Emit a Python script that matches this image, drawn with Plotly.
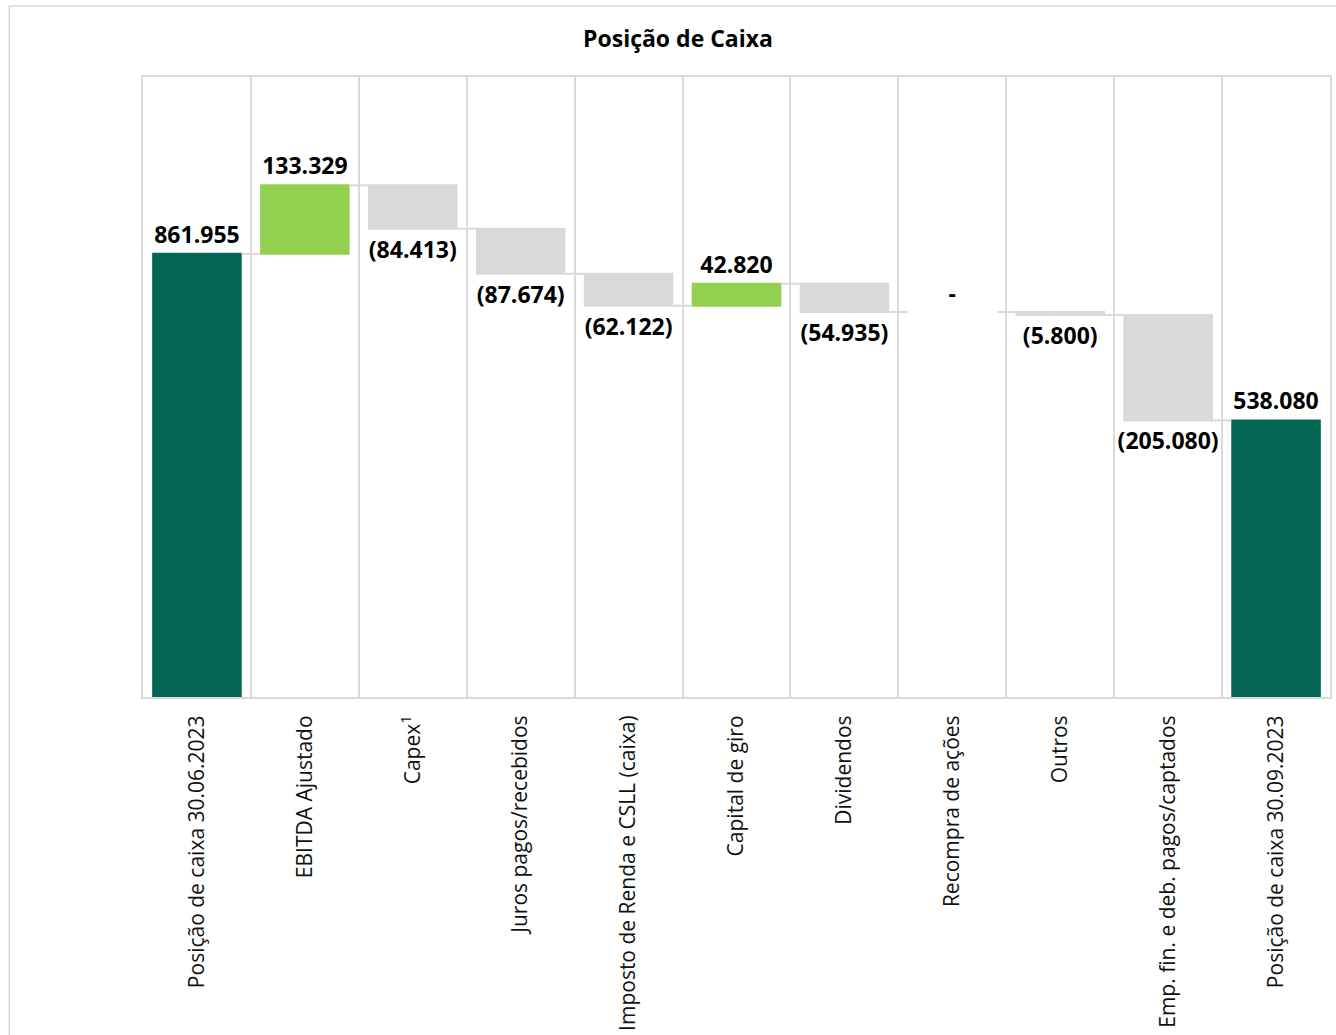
import plotly.graph_objects as go

categories = [
    "Posição de caixa 30.06.2023",
    "EBITDA Ajustado",
    "Capex<sup>1</sup>",
    "Juros pagos/recebidos",
    "Imposto de Renda e CSLL (caixa)",
    "Capital de giro",
    "Dividendos",
    "Recompra de ações",
    "Outros",
    "Emp. fin. e deb. pagos/captados",
    "Posição de caixa 30.09.2023",
]
values = [861955, 133329, -84413, -87674, -62122, 42820, -54935, 0, -5800, -205080, 538080]
measures = ["absolute"] + ["relative"] * 9 + ["total"]


def fmt(v):
    if v == 0:
        return "-"
    s = f"{abs(v):,}".replace(",", ".")
    return f"({s})" if v < 0 else s


labels = [fmt(v) for v in values]

DARK = "#046554"
LIGHT = "#92D050"
GRAY = "#D9D9D9"
FONT = "Open Sans"

fig = go.Figure(
    go.Waterfall(
        x=categories,
        y=values,
        measure=measures,
        text=labels,
        texttemplate="<b>%{text}</b>",
        textposition="outside",
        constraintext="none",
        textfont=dict(family=FONT, size=23, color="#000000"),
        cliponaxis=False,
        increasing=dict(marker=dict(color=LIGHT)),
        decreasing=dict(marker=dict(color=GRAY)),
        totals=dict(marker=dict(color=DARK)),
        connector=dict(mode="between", line=dict(color=GRAY, width=2)),
        hoverinfo="skip",
    )
)

fig.update_layout(
    width=1336,
    height=1035,
    margin=dict(l=143, r=4, t=77, b=337),
    paper_bgcolor="white",
    plot_bgcolor="white",
    showlegend=False,
    waterfallgap=0.17,
    title=dict(
        text="<b>Posição de Caixa</b>",
        x=678 / 1336,
        xref="container",
        xanchor="center",
        y=1 - 39 / 1035,
        yref="container",
        yanchor="middle",
        font=dict(family=FONT, size=23, color="#000000"),
    ),
    font=dict(family=FONT, color="#000000"),
)

fig.update_xaxes(
    type="category",
    tickson="boundaries",
    showgrid=True,
    gridcolor=GRAY,
    gridwidth=2,
    ticks="",
    tickangle=-90,
    ticklabelstandoff=8,
    tickfont=dict(family=FONT, size=21, color="#111111"),
    showline=True,
    linecolor=GRAY,
    linewidth=2,
    mirror=True,
)
fig.update_yaxes(
    range=[0, 1206000],
    showgrid=False,
    zeroline=False,
    showticklabels=False,
    ticks="",
    showline=True,
    linecolor=GRAY,
    linewidth=2,
    mirror=True,
)

# outer chart frame
fig.add_shape(
    type="rect",
    xref="paper",
    yref="paper",
    x0=(9 - 143) / 1189,
    x1=(1345 - 143) / 1189,
    y0=-(1045 - 698) / 621,
    y1=1 + (77 - 6) / 621,
    line=dict(color=GRAY, width=1.5),
    fillcolor="rgba(0,0,0,0)",
    layer="below",
)

fig.write_html(
    "out.html",
    config={"displayModeBar": False},
    post_script="document.body.style.margin='0';document.body.style.overflow='hidden';",
)
